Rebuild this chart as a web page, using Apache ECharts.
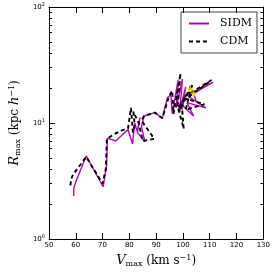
<!DOCTYPE html>
<html><head><meta charset="utf-8">
<script src="https://cdn.jsdelivr.net/npm/echarts@6/dist/echarts.min.js"></script>
<style>html,body{margin:0;padding:0;background:#fff}#c{width:273px;height:273px}</style>
</head><body><div id="c"></div>
<script>
const sidmV = [59.2,59.3,60.2,63.9,70.2,71.5,71.8,74.9,79.5,81.2,82.0,82.9,84.0,83.0,85.8,84.5,85.5,89.5,92.3,94.2,95.5,96.0,98.2,97.5,99.8,98.8,101.0,100.0,104.0,101.5,108.5,102.0,111.3,103.5,102.5,105.0,104.0];
const sidmR = [2.35,2.75,3.2,5.2,2.82,4.3,7.4,7.0,8.8,6.6,10.0,8.5,11.2,8.3,6.9,9.3,11.5,12.3,11.0,16.5,17.5,12.0,23.5,13.5,24.0,12.5,20.5,14.0,11.5,15.0,13.5,17.0,22.5,18.5,21.0,15.5,17.9];
const cdmV = [58.0,58.3,59.0,63.9,70.0,71.2,71.6,74.3,77.0,79.5,80.6,81.3,82.0,81.5,83.5,85.0,89.3,84.5,85.5,89.5,92.3,94.8,96.0,96.5,99.1,98.0,100.3,99.5,110.7,100.0,108.0,101.0,103.5,99.0,102.8];
const cdmR = [2.9,3.3,3.6,5.1,3.0,4.0,7.3,8.0,8.6,9.0,13.5,8.3,9.6,12.5,10.0,7.0,7.3,10.5,11.5,12.3,11.0,17.0,19.0,12.0,26.8,14.0,8.9,15.0,23.5,16.5,14.5,13.0,21.5,14.0,19.7];
const yellowStarV = [104.0, 102.8];
const yellowStarR = [17.9, 19.7];
const blackStarV = [99.0];
const blackStarR = [14.0];
const xTicks = [50,60,70,80,90,100,110,120,130];
const yTicks = [1,10,100];
const yMinor = [2,3,4,5,6,7,8,9,20,30,40,50,60,70,80,90];

const zip = (a,b) => a.map((v,i)=>[v,b[i]]);
const star = 'path://M0,-10 L2.35,-3.24 L9.51,-3.09 L3.8,1.24 L5.88,8.09 L0,4 L-5.88,8.09 L-3.8,1.24 L-9.51,-3.09 L-2.35,-3.24 Z';
const tickFont = {fontFamily:'DejaVu Sans', fontSize:7, color:'#000'};
const lineAx = {show:true, lineStyle:{color:'#000', width:1}};
const nameRich = {fontFamily:'DejaVu Serif', fontSize:12, color:'#000',
  rich:{i:{fontFamily:'DejaVu Serif', fontStyle:'italic', fontSize:13, color:'#000'},
        s:{fontFamily:'DejaVu Serif', fontSize:8, color:'#000', padding:[6,0,0,0]},
        p:{fontFamily:'DejaVu Serif', fontSize:8, color:'#000', padding:[0,0,6,0]}}};

const chart = echarts.init(document.getElementById('c'));
const yBase = (pos, minor, labels) => ({
  type:'log', logBase:10, min:1, max:100, position:pos,
  axisLine: minor ? {show:false} : lineAx,
  axisTick:{show:true, inside:true, length: minor?3:6, lineStyle:{color:'#000', width:1}, customValues: minor ? yMinor : yTicks},
  axisLabel: labels ? {show:true, customValues:yTicks, margin:4,
      formatter: v => '{b|10}{s|' + Math.round(Math.log10(v)) + '}',
      rich:{b:{fontFamily:'DejaVu Sans', fontSize:7, color:'#000'}, s:{fontFamily:'DejaVu Sans', fontSize:5, color:'#000', verticalAlign:'top', padding:[0,0,4,0]}}} : {show:false},
  splitLine:{show:false}, minorTick:{show:false}
});
const y0 = yBase('left', false, true);
y0.name = '{i|R}{s|max} (kpc {i|h}{p|−1})';
y0.nameLocation = 'middle';
y0.nameGap = 16;
y0.nameTextStyle = nameRich;

chart.setOption({
  animation:false,
  backgroundColor:'#fff',
  grid:{left:33, top:7, width:231, height:237},
  legend:{
    data:['SIDM','CDM'], orient:'vertical', left:181, top:12,
    itemWidth:20, itemHeight:10, itemGap:7,
    padding:[6,5,6,7],
    itemStyle:{opacity:0},
    borderColor:'#444', borderWidth:1, borderRadius:0,
    textStyle:{fontFamily:'DejaVu Serif', fontSize:11, color:'#000', padding:[0,0,0,6]}
  },
  xAxis:[
    {type:'value', min:50, max:130, interval:10, position:'bottom',
     axisLine:lineAx, axisTick:{inside:true, length:6, lineStyle:{color:'#000'}},
     axisLabel:Object.assign({margin:3}, tickFont), splitLine:{show:false},
     name:'{i|V}{s|max} (km s{p|−1})', nameLocation:'middle', nameGap:15,
     nameTextStyle:nameRich},
    {type:'value', min:50, max:130, interval:10, position:'top',
     axisLine:lineAx, axisTick:{inside:true, length:6, lineStyle:{color:'#000'}},
     axisLabel:{show:false}, splitLine:{show:false}}
  ],
  yAxis:[ y0, yBase('left', true, false), yBase('right', false, false), yBase('right', true, false) ],
  series:[
    {name:'SIDM', type:'line', data:zip(sidmV, sidmR), symbol:'none', z:2,
     lineStyle:{color:'#bf00bf', width:1.4}, itemStyle:{color:'#bf00bf'}},
    {name:'CDM', type:'line', data:zip(cdmV, cdmR), symbol:'none', z:3,
     lineStyle:{color:'#000', width:1.9, type:[4,3]}, itemStyle:{color:'#000'}},
    {type:'scatter', data:zip(blackStarV, blackStarR), symbol:star, symbolSize:9, z:4,
     itemStyle:{color:'#000'}},
    {type:'scatter', data:zip(yellowStarV, yellowStarR), symbol:star, symbolSize:7, z:5,
     itemStyle:{color:'#ffff00', borderColor:'#c8c800', borderWidth:0.3}}
  ]
});
</script></body></html>
